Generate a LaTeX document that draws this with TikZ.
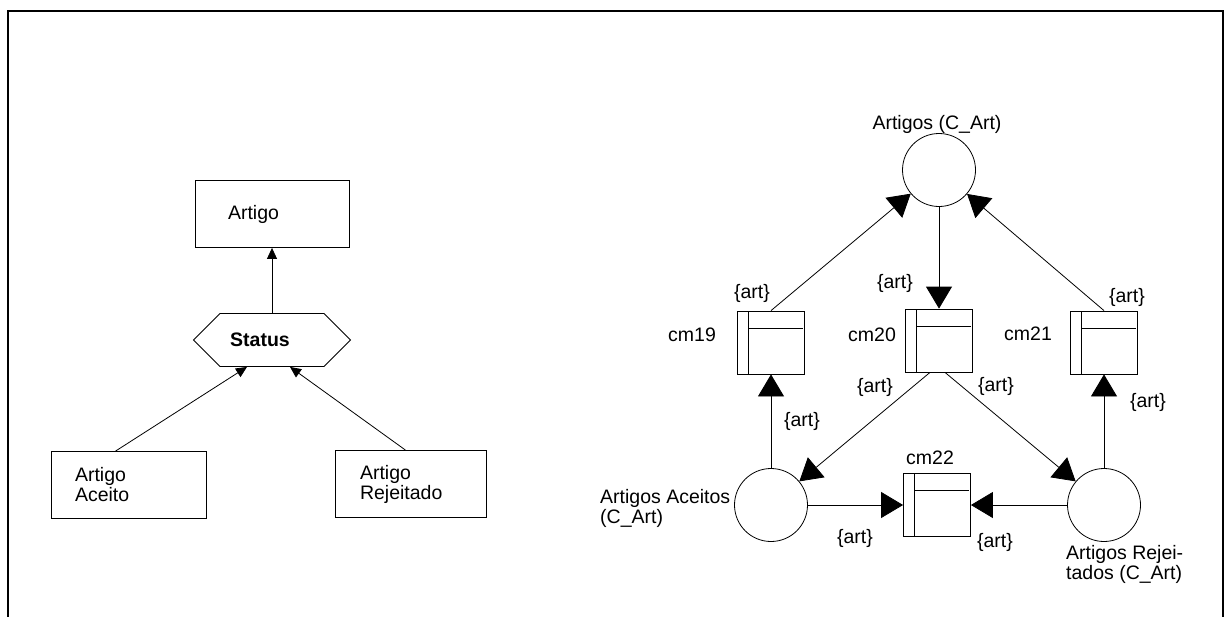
\documentclass[tikz,border=0pt]{standalone}
\usepackage{fontspec}
\setmainfont{Liberation Sans}
\usetikzlibrary{arrows.meta,shapes.symbols}
\tikzset{
    frame/.style={line width=1.8pt},
    classbox/.style={draw, line width=0.8pt, rectangle, minimum height=67pt, align=left},
    place/.style={draw, line width=0.8pt, circle, minimum size=73pt, inner sep=0pt},
    trans/.style={
        draw, line width=0.8pt, rectangle, minimum width=67pt, minimum height=63pt, inner sep=0pt,
        path picture={
            \draw ([xshift=11pt]path picture bounding box.north west)
            -- ([xshift=11pt]path picture bounding box.south west);
            \draw ([xshift=11pt,yshift=-17pt]path picture bounding box.north west)
            -- ([xshift=-2pt,yshift=-17pt]path picture bounding box.north east);
        }
    },
    isa/.style={line width=0.8pt, -{Triangle[length=11pt,width=10pt]}},
    arc/.style={line width=0.8pt, -{Triangle[length=22pt,width=26pt]}},
    lbl/.style={inner sep=0pt, align=left}
}

\begin{document}
\begin{tikzpicture}[x=1pt, y=-1pt, font=\fontsize{19.5}{20}\selectfont]
    \useasboundingbox (0,0) rectangle (1228,616);
    \draw[frame] (8,620) -- (8,11) -- (1223,11) -- (1223,620);

    % class hierarchy
    \node[classbox, minimum width=154pt, inner xsep=33pt, text width=88pt] (artigo) at (272,214) {Artigo};
    \node[draw, line width=0.8pt, shape=signal, signal to=west and east, signal pointer angle=90,
        minimum width=157pt, minimum height=53pt, inner sep=0pt,
        label={[xshift=-12pt]center:\bfseries Status}] (status) at (272,340) {};
    \node[classbox, minimum width=155pt, inner xsep=24pt, text width=107pt] (aceito) at (128.5,485) {Artigo\\Aceito};
    \node[classbox, minimum width=151pt, inner xsep=25pt, text width=101pt] (rejeitado) at (410.5,484) {Artigo\\Rejeitado};

    \draw[isa] (status.north) -- (artigo.south);
    \draw[isa] ([xshift=-13pt]aceito.north) -- ([xshift=-25pt]status.south);
    \draw[isa] ([xshift=-5pt]rejeitado.north) -- ([xshift=18pt]status.south);

    % net
    \node[place] (artigos) at (939,170) {};
    \node[place] (aceitos) at (771,505) {};
    \node[place] (rejeitados) at (1104,505) {};
    \node[trans] (cm19) at (771,342.5) {};
    \node[trans] (cm20) at (939,340.5) {};
    \node[trans] (cm21) at (1104,342.5) {};
    \node[trans] (cm22) at (937,505) {};

    \node[lbl] (artigosL) at (937,124) {Artigos (C\_Art)};
    \node[lbl, anchor=west] (aceitosL) at (600,508) {Artigos Aceitos\\(C\_Art)};
    \node[lbl, anchor=west] (rejeitadosL) at (1066,564) {Artigos Rejei-\\tados (C\_Art)};
    \node[lbl] (cm19L) at (692,335) {cm19};
    \node[lbl] (cm20L) at (872,335) {cm20};
    \node[lbl] (cm21L) at (1028,334) {cm21};
    \node[lbl] (cm22L) at (930,458) {cm22};

    \draw[arc] (cm19.north) -- (artigos);
    \draw[arc] (artigos.south) -- (cm20.north);
    \draw[arc] (cm21.north) -- (artigos);
    \draw[arc] (aceitos.north) -- (cm19.south);
    \draw[arc] ([xshift=-9pt]cm20.south) -- (aceitos);
    \draw[arc] ([xshift=6pt]cm20.south) -- (rejeitados);
    \draw[arc] (rejeitados.north) -- (cm21.south);
    \draw[arc] (aceitos.east) -- (cm22.west);
    \draw[arc] (rejeitados.west) -- (cm22.east);

    \node[lbl] (a1) at (752,293) {\{art\}};
    \node[lbl] (a2) at (895,283) {\{art\}};
    \node[lbl] (a3) at (1127,297) {\{art\}};
    \node[lbl] (a4) at (875,387) {\{art\}};
    \node[lbl] (a5) at (996,386) {\{art\}};
    \node[lbl] (a6) at (802,421) {\{art\}};
    \node[lbl] (a7) at (1148,402) {\{art\}};
    \node[lbl] (a8) at (855,538) {\{art\}};
    \node[lbl] (a9) at (995,542) {\{art\}};
\end{tikzpicture}
\end{document}
